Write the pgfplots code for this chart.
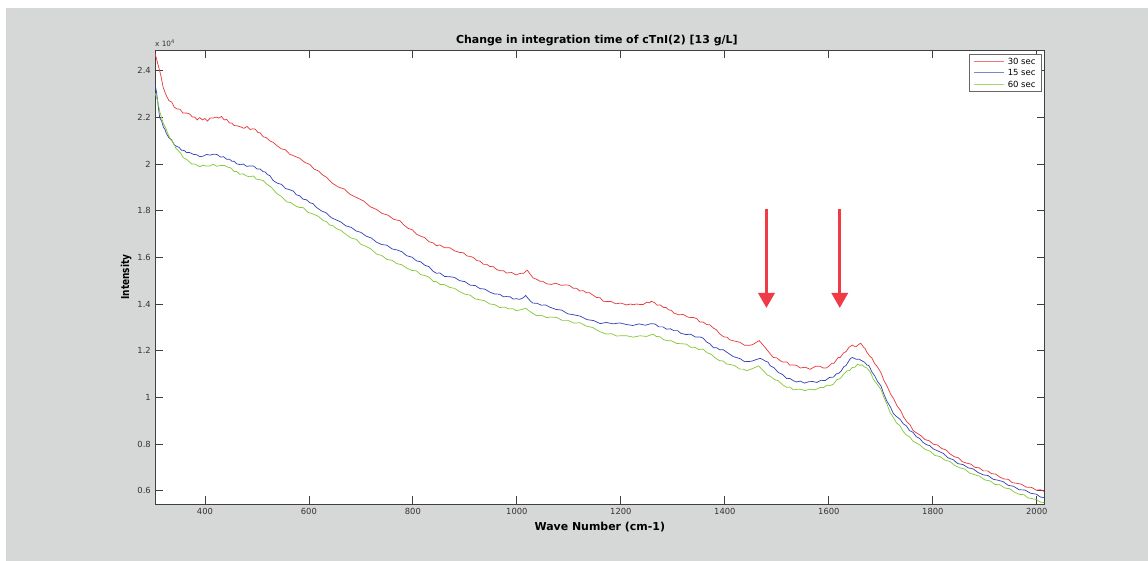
\documentclass[border=0pt]{standalone}
\usepackage{pgfplots}
\pgfplotsset{compat=1.18}
\usepackage{fontspec}
\setmainfont{DejaVu Sans}
\usetikzlibrary{arrows.meta}
\definecolor{bg}{RGB}{214,215,215}
\definecolor{cred}{RGB}{232,56,56}
\definecolor{cblue}{RGB}{48,66,182}
\definecolor{cgreen}{RGB}{132,200,52}
\definecolor{lred}{RGB}{236,120,120}
\definecolor{lblue}{RGB}{120,135,205}
\definecolor{lgreen}{RGB}{165,215,110}
\definecolor{carrow}{RGB}{240,58,70}
\begin{document}
\begin{tikzpicture}[x=1bp,y=1bp]
\fill[white] (0,0) rectangle (1148,561);
\fill[bg] (6,0) rectangle (1148,553);
\begin{axis}[
  at={(155bp,57bp)}, anchor=south west,
  scale only axis, width=889.6bp, height=454bp,
  xmin=304, xmax=2015, ymin=0.543, ymax=2.4887,
  clip mode=individual,
  xtick={400,600,800,1000,1200,1400,1600,1800,2000},
  ytick={0.6,0.8,1,1.2,1.4,1.6,1.8,2,2.2,2.4},
  axis background/.style={fill=white},
  tick align=inside, major tick length=8bp,
  axis line style={black!75, line width=0.9bp},
  every tick/.style={black!75, line width=0.8bp},
  tick label style={font=\fontsize{8.4}{10}\selectfont, text=black!80},
  /pgf/number format/assume math mode=true,
  /pgf/number format/1000 sep={},
  xticklabel style={inner sep=0pt, yshift=-4bp, anchor=north},
  yticklabel style={inner sep=0pt, xshift=-4bp, anchor=east},
  title={Change in integration time of cTnI(2) [13 g/L]},
  title style={font=\bfseries\fontsize{11}{13}\selectfont, at={(axis description cs:0.5,1)}, anchor=base, yshift=1bp, xshift=-3bp, inner sep=0pt},
  xlabel={Wave Number (cm-1)},
  xlabel style={font=\bfseries\fontsize{11}{13}\selectfont, at={(axis description cs:0.5,0)}, anchor=base, yshift=-26.7bp, inner sep=0pt},
  ylabel={\scalebox{0.82}[1]{Intensity}},
  ylabel style={font=\bfseries\fontsize{11}{13}\selectfont, at={(axis description cs:-0.0292,0.5)}, anchor=base, rotate=0, inner sep=0pt},
  legend style={at={(1,1)}, anchor=north east, xshift=-3.3bp, yshift=-4bp, draw=black!60, line width=0.6bp,
    font=\fontsize{8.5}{10}\selectfont, inner xsep=4.5bp, inner ysep=2.25bp, row sep=2.2bp,
    nodes={inner sep=1bp, text height=6.5bp, text depth=1bp},
    /tikz/every odd column/.append style={column sep=2bp}},
  legend cell align=left,
]
\addplot[cred, line width=0.7bp, legend image code/.code={\draw[draw=lred, line width=1bp] (0bp,0bp) -- (30bp,0bp);}] coordinates {
(304,2.474) (307,2.450) (315,2.382) (320,2.326) (326,2.292) (331,2.271) (336,2.266) (341,2.244) (346,2.236) (352,2.235) (358,2.218) (364,2.219) (371,2.214) (376,2.201) (380,2.202) (385,2.189) (390,2.199) (395,2.189) (400,2.195) (405,2.184) (410,2.197) (416,2.197) (422,2.201) (427,2.197) (432,2.204) (437,2.189) (442,2.191) (447,2.176) (452,2.175) (456,2.165) (461,2.164) (468,2.160) (475,2.153) (481,2.161) (487,2.148) (492,2.151) (497,2.149) (502,2.135) (506,2.134) (512,2.117) (518,2.113) (525,2.099) (531,2.093) (539,2.078) (547,2.065) (555,2.061) (563,2.042) (572,2.034) (582,2.025) (592,2.007) (602,1.998) (610,1.978) (618,1.971) (626,1.954) (634,1.943) (645,1.918) (656,1.902) (668,1.893) (679,1.870) (692,1.856) (705,1.842) (718,1.817) (730,1.805) (741,1.788) (752,1.781) (763,1.763) (775,1.757) (783,1.738) (791,1.724) (799,1.718) (807,1.699) (815,1.691) (823,1.684) (831,1.667) (839,1.662) (845,1.650) (852,1.653) (861,1.641) (871,1.641) (880,1.628) (890,1.621) (897,1.620) (904,1.606) (910,1.604) (916,1.600) (923,1.586) (929,1.584) (936,1.570) (942,1.570) (948,1.561) (955,1.560) (961,1.548) (967,1.543) (974,1.543) (980,1.533) (985,1.534) (990,1.535) (998,1.525) (1006,1.531) (1013,1.532) (1017,1.540) (1020,1.545) (1025,1.530) (1031,1.512) (1038,1.506) (1044,1.498) (1050,1.497) (1057,1.487) (1066,1.484) (1075,1.489) (1085,1.480) (1095,1.482) (1101,1.480) (1108,1.468) (1115,1.467) (1121,1.456) (1128,1.457) (1134,1.448) (1140,1.448) (1147,1.437) (1153,1.428) (1160,1.427) (1166,1.412) (1172,1.411) (1181,1.411) (1190,1.401) (1200,1.404) (1211,1.396) (1218,1.400) (1224,1.397) (1230,1.400) (1237,1.398) (1243,1.398) (1250,1.408) (1255,1.405) (1258,1.412) (1264,1.407) (1270,1.395) (1276,1.396) (1282,1.385) (1287,1.385) (1292,1.375) (1297,1.373) (1302,1.361) (1311,1.354) (1320,1.355) (1330,1.343) (1340,1.342) (1346,1.337) (1352,1.323) (1358,1.323) (1365,1.312) (1371,1.311) (1378,1.297) (1384,1.289) (1390,1.272) (1398,1.259) (1404,1.258) (1410,1.246) (1419,1.241) (1429,1.236) (1438,1.223) (1448,1.223) (1453,1.226) (1458,1.232) (1462,1.238) (1466,1.243) (1472,1.228) (1478,1.212) (1485,1.193) (1493,1.171) (1500,1.169) (1506,1.158) (1512,1.151) (1519,1.152) (1525,1.138) (1532,1.139) (1538,1.137) (1545,1.126) (1555,1.129) (1564,1.120) (1574,1.133) (1583,1.133) (1589,1.126) (1595,1.126) (1600,1.133) (1606,1.146) (1610,1.146) (1614,1.159) (1618,1.171) (1622,1.171) (1628,1.190) (1633,1.196) (1639,1.215) (1645,1.224) (1649,1.219) (1653,1.218) (1657,1.226) (1661,1.232) (1664,1.224) (1667,1.214) (1670,1.209) (1673,1.194) (1678,1.178) (1683,1.168) (1688,1.145) (1693,1.132) (1700,1.107) (1706,1.072) (1712,1.048) (1719,1.013) (1725,0.993) (1731,0.964) (1738,0.944) (1744,0.915) (1750,0.895) (1756,0.883) (1762,0.858) (1769,0.847) (1777,0.836) (1785,0.819) (1793,0.814) (1801,0.799) (1809,0.796) (1817,0.781) (1825,0.775) (1833,0.758) (1841,0.746) (1849,0.741) (1857,0.724) (1865,0.718) (1873,0.714) (1881,0.700) (1889,0.698) (1897,0.685) (1905,0.685) (1913,0.673) (1921,0.671) (1929,0.658) (1937,0.650) (1945,0.649) (1953,0.634) (1961,0.632) (1970,0.628) (1980,0.615) (1990,0.614) (1999,0.602) (2007,0.604) (2014,0.597)
};
\addlegendentry{30 sec}
\addplot[cblue, line width=0.7bp, legend image code/.code={\draw[draw=lblue, line width=1bp] (0bp,0bp) -- (30bp,0bp);}] coordinates {
(304,2.344) (307,2.307) (310,2.252) (313,2.199) (317,2.183) (320,2.159) (323,2.149) (326,2.130) (331,2.112) (336,2.103) (341,2.082) (346,2.075) (350,2.072) (355,2.059) (360,2.058) (365,2.049) (371,2.049) (378,2.041) (384,2.040) (390,2.032) (396,2.033) (403,2.041) (410,2.038) (416,2.042) (423,2.041) (430,2.030) (436,2.031) (442,2.020) (447,2.021) (452,2.012) (456,2.012) (461,2.001) (468,1.997) (474,2.000) (480,1.990) (487,1.992) (494,1.991) (500,1.979) (506,1.979) (512,1.967) (516,1.966) (520,1.955) (525,1.950) (531,1.930) (539,1.918) (547,1.913) (555,1.895) (563,1.890) (570,1.884) (576,1.868) (582,1.864) (589,1.849) (595,1.847) (602,1.834) (608,1.830) (614,1.815) (624,1.799) (633,1.791) (643,1.770) (652,1.761) (661,1.752) (671,1.735) (681,1.729) (691,1.713) (700,1.707) (710,1.691) (720,1.683) (730,1.665) (740,1.655) (750,1.652) (760,1.636) (769,1.632) (779,1.624) (788,1.607) (798,1.601) (807,1.585) (815,1.581) (823,1.566) (831,1.560) (839,1.540) (845,1.532) (852,1.533) (861,1.518) (871,1.517) (880,1.514) (890,1.500) (900,1.496) (910,1.481) (920,1.479) (929,1.466) (938,1.464) (948,1.451) (957,1.443) (967,1.442) (974,1.431) (980,1.432) (987,1.431) (993,1.421) (999,1.423) (1005,1.420) (1010,1.424) (1014,1.430) (1017,1.437) (1020,1.428) (1024,1.418) (1027,1.410) (1031,1.404) (1039,1.403) (1047,1.395) (1055,1.396) (1063,1.387) (1075,1.377) (1086,1.374) (1098,1.358) (1109,1.354) (1122,1.348) (1135,1.333) (1148,1.329) (1160,1.316) (1172,1.321) (1185,1.315) (1198,1.319) (1211,1.312) (1223,1.308) (1235,1.315) (1247,1.309) (1258,1.316) (1266,1.314) (1273,1.302) (1281,1.302) (1288,1.292) (1295,1.294) (1302,1.286) (1309,1.286) (1315,1.275) (1325,1.269) (1334,1.271) (1343,1.259) (1352,1.259) (1358,1.254) (1365,1.237) (1371,1.230) (1378,1.213) (1384,1.213) (1390,1.204) (1397,1.204) (1404,1.193) (1416,1.175) (1429,1.166) (1438,1.153) (1448,1.154) (1453,1.156) (1458,1.160) (1463,1.164) (1468,1.167) (1473,1.162) (1478,1.155) (1483,1.151) (1487,1.136) (1495,1.126) (1503,1.106) (1511,1.098) (1519,1.080) (1525,1.081) (1532,1.071) (1538,1.066) (1545,1.070) (1553,1.061) (1561,1.067) (1569,1.068) (1577,1.064) (1585,1.073) (1593,1.072) (1601,1.085) (1609,1.087) (1614,1.100) (1619,1.103) (1624,1.114) (1629,1.132) (1633,1.136) (1637,1.151) (1641,1.165) (1645,1.171) (1649,1.167) (1653,1.163) (1657,1.164) (1661,1.160) (1665,1.155) (1669,1.150) (1673,1.139) (1677,1.136) (1683,1.108) (1688,1.093) (1694,1.067) (1700,1.050) (1706,1.013) (1712,0.982) (1718,0.961) (1724,0.931) (1730,0.918) (1737,0.906) (1743,0.887) (1749,0.878) (1755,0.858) (1762,0.850) (1768,0.832) (1775,0.823) (1781,0.807) (1788,0.797) (1794,0.793) (1801,0.779) (1810,0.770) (1820,0.760) (1829,0.741) (1839,0.733) (1848,0.716) (1858,0.712) (1868,0.698) (1878,0.693) (1887,0.678) (1897,0.668) (1906,0.665) (1916,0.649) (1925,0.645) (1935,0.639) (1945,0.623) (1955,0.619) (1966,0.604) (1977,0.603) (1988,0.589) (1999,0.585) (2007,0.573) (2014,0.570)
};
\addlegendentry{15 sec}
\addplot[cgreen, line width=0.7bp, legend image code/.code={\draw[draw=lgreen, line width=1bp] (0bp,0bp) -- (30bp,0bp);}] coordinates {
(304,2.304) (307,2.286) (310,2.262) (313,2.226) (316,2.203) (320,2.174) (325,2.152) (330,2.123) (335,2.102) (339,2.092) (344,2.068) (348,2.059) (353,2.048) (358,2.028) (366,2.018) (374,2.001) (382,1.999) (390,1.988) (396,1.995) (403,1.991) (410,1.992) (416,1.999) (423,1.990) (430,1.994) (437,1.994) (445,1.986) (450,1.983) (456,1.968) (461,1.968) (467,1.956) (473,1.958) (480,1.949) (486,1.945) (493,1.949) (499,1.935) (506,1.933) (512,1.929) (519,1.914) (528,1.900) (538,1.874) (547,1.861) (557,1.838) (565,1.835) (573,1.822) (581,1.814) (589,1.813) (598,1.793) (608,1.786) (618,1.776) (628,1.757) (634,1.753) (640,1.738) (646,1.736) (653,1.723) (662,1.715) (672,1.697) (681,1.683) (691,1.677) (700,1.656) (710,1.647) (720,1.635) (730,1.614) (740,1.608) (750,1.591) (760,1.587) (769,1.573) (778,1.569) (788,1.554) (798,1.544) (807,1.542) (815,1.526) (823,1.522) (831,1.515) (839,1.497) (845,1.496) (852,1.484) (861,1.483) (871,1.471) (880,1.467) (890,1.453) (900,1.442) (910,1.438) (920,1.422) (929,1.418) (938,1.414) (948,1.400) (957,1.398) (967,1.385) (976,1.387) (985,1.379) (992,1.380) (999,1.372) (1005,1.374) (1010,1.377) (1014,1.380) (1017,1.382) (1022,1.373) (1027,1.365) (1032,1.358) (1038,1.350) (1047,1.352) (1057,1.342) (1066,1.344) (1076,1.343) (1087,1.330) (1098,1.330) (1110,1.318) (1121,1.320) (1134,1.305) (1146,1.299) (1159,1.282) (1172,1.271) (1182,1.273) (1192,1.263) (1201,1.264) (1211,1.264) (1224,1.258) (1237,1.264) (1249,1.261) (1262,1.271) (1268,1.261) (1275,1.260) (1281,1.249) (1288,1.243) (1297,1.243) (1307,1.231) (1316,1.230) (1326,1.228) (1334,1.215) (1342,1.215) (1350,1.205) (1358,1.207) (1366,1.191) (1374,1.184) (1382,1.168) (1390,1.157) (1397,1.156) (1403,1.143) (1410,1.141) (1419,1.136) (1429,1.121) (1435,1.121) (1442,1.114) (1448,1.119) (1455,1.125) (1460,1.130) (1465,1.135) (1470,1.123) (1476,1.110) (1482,1.095) (1487,1.091) (1495,1.077) (1503,1.071) (1511,1.054) (1519,1.043) (1525,1.044) (1532,1.032) (1538,1.034) (1545,1.035) (1554,1.029) (1564,1.035) (1573,1.032) (1583,1.042) (1590,1.042) (1596,1.052) (1603,1.051) (1609,1.057) (1615,1.075) (1622,1.081) (1628,1.098) (1635,1.114) (1640,1.115) (1645,1.128) (1650,1.129) (1655,1.142) (1660,1.137) (1664,1.140) (1668,1.131) (1673,1.126) (1680,1.107) (1686,1.076) (1693,1.056) (1700,1.035) (1706,0.999) (1712,0.970) (1718,0.934) (1724,0.914) (1730,0.891) (1737,0.878) (1743,0.854) (1749,0.839) (1755,0.831) (1762,0.812) (1768,0.805) (1775,0.796) (1785,0.777) (1795,0.769) (1804,0.751) (1814,0.746) (1823,0.731) (1833,0.725) (1842,0.708) (1852,0.698) (1861,0.693) (1871,0.675) (1880,0.669) (1890,0.662) (1900,0.646) (1910,0.642) (1919,0.627) (1929,0.625) (1938,0.612) (1948,0.608) (1957,0.593) (1967,0.584) (1975,0.583) (1983,0.569) (1991,0.566) (1999,0.562) (2007,0.551) (2014,0.549)
};
\addlegendentry{60 sec}
\draw[carrow, line width=3.3bp, -{Triangle[width=16bp,length=15bp]}] (axis cs:1480,1.807) -- (axis cs:1480,1.383);
\draw[carrow, line width=3.3bp, -{Triangle[width=16bp,length=15bp]}] (axis cs:1621,1.807) -- (axis cs:1621,1.383);
\node[anchor=south west, inner sep=0pt, font=\fontsize{7.3}{8}\selectfont, text=black!80, yshift=3bp] at (rel axis cs:0,1) {x 10\textsuperscript{4}};
\end{axis}
\end{tikzpicture}
\end{document}
